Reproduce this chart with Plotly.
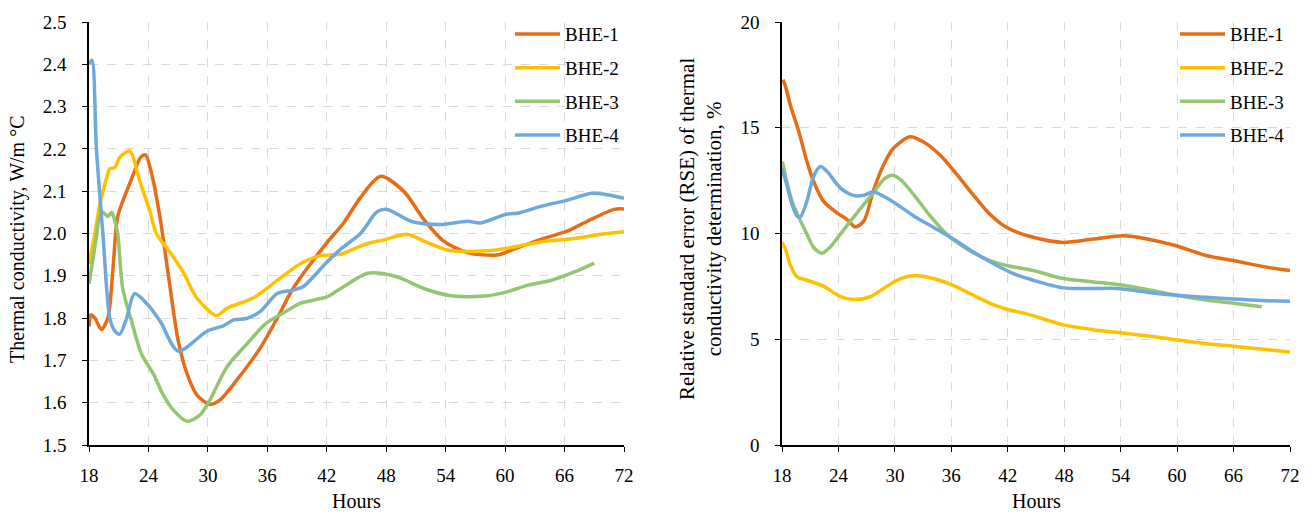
import plotly.graph_objects as go

FONT = "Liberation Serif"
NAMES = ["BHE-1", "BHE-2", "BHE-3", "BHE-4"]
COLORS = ["#E66C15", "#FFC000", "#93C572", "#6FA8DC"]

# ---- Left chart: thermal conductivity, W/m °C ----
l1_x = [18.0, 18.2, 18.6, 19.25, 19.9, 20.4, 20.9, 21.8, 22.5, 23.2, 23.7, 24.4, 25.2, 26.2, 27.0, 27.9, 28.9, 30.2, 31.2, 32.9, 35.3, 37.0, 38.6, 42.0, 43.7, 45.4, 47.4, 49.8, 51.8, 53.8, 56.2, 59.2, 60.9, 63.6, 66.3, 68.3, 71.0, 72.0]
l1_y = [1.78, 1.808, 1.80, 1.773, 1.80, 1.91, 2.04, 2.10, 2.141, 2.18, 2.186, 2.133, 2.033, 1.87, 1.746, 1.668, 1.618, 1.596, 1.606, 1.653, 1.73, 1.80, 1.87, 1.978, 2.025, 2.085, 2.135, 2.099, 2.033, 1.982, 1.955, 1.949, 1.963, 1.986, 2.006, 2.029, 2.057, 2.058]

l2_x = [18.0, 18.6, 19.1, 19.8, 20.1, 20.6, 21.1, 22.1, 23.1, 24.1, 24.8, 26.2, 27.5, 28.9, 30.9, 31.9, 34.6, 37.0, 39.3, 41.3, 43.4, 45.4, 46.4, 47.8, 50.1, 51.8, 54.2, 58.2, 60.9, 63.6, 67.0, 69.7, 72.0]
l2_y = [1.928, 2.0, 2.07, 2.133, 2.153, 2.156, 2.18, 2.195, 2.126, 2.056, 2.0, 1.955, 1.909, 1.847, 1.806, 1.823, 1.848, 1.889, 1.928, 1.947, 1.951, 1.97, 1.978, 1.985, 1.998, 1.982, 1.961, 1.959, 1.968, 1.98, 1.988, 1.998, 2.004]

l3_x = [18.0, 18.4, 18.8, 19.0, 19.4, 19.9, 20.3, 20.6, 20.9, 21.4, 22.3, 23.3, 24.5, 25.5, 26.5, 27.9, 29.2, 30.2, 31.9, 33.9, 35.9, 37.9, 39.3, 42.0, 43.4, 46.1, 47.8, 49.4, 51.8, 54.5, 57.9, 60.2, 62.3, 64.6, 67.0, 69.0]
l3_y = [1.881, 1.94, 2.0, 2.033, 2.05, 2.04, 2.05, 2.03, 2.0, 1.87, 1.792, 1.715, 1.668, 1.618, 1.583, 1.556, 1.571, 1.606, 1.684, 1.738, 1.788, 1.816, 1.835, 1.85, 1.87, 1.906, 1.905, 1.895, 1.87, 1.853, 1.852, 1.862, 1.878, 1.889, 1.909, 1.93]

l4_x = [18.0, 18.3, 18.75, 19.4, 20.1, 20.6, 21.1, 21.8, 22.6, 23.8, 25.2, 27.0, 29.9, 31.6, 32.6, 33.9, 35.3, 37.0, 38.6, 39.6, 42.0, 43.4, 45.4, 47.1, 48.1, 50.5, 53.5, 56.2, 57.5, 60.2, 61.3, 63.6, 66.3, 68.7, 70.0, 72.0]
l4_y = [2.40, 2.41, 2.2, 2.0, 1.8, 1.77, 1.762, 1.80, 1.858, 1.835, 1.792, 1.722, 1.769, 1.782, 1.796, 1.799, 1.816, 1.858, 1.866, 1.874, 1.932, 1.963, 2.0, 2.052, 2.057, 2.029, 2.021, 2.029, 2.025, 2.046, 2.048, 2.064, 2.079, 2.095, 2.093, 2.083]

# ---- Right chart: RSE, % ----
r1_x = [18.1, 18.35, 18.9, 19.8, 20.65, 21.35, 22.4, 23.8, 24.9, 25.8, 26.7, 27.7, 28.8, 29.85, 31.6, 33.0, 34.8, 36.6, 38.3, 40.1, 41.9, 44.7, 47.9, 51.1, 54.3, 56.8, 59.9, 63.1, 66.0, 69.5, 72.0]
r1_y = [17.27, 16.99, 16.05, 14.8, 13.4, 12.47, 11.53, 10.99, 10.67, 10.31, 10.59, 12.0, 13.25, 14.03, 14.57, 14.34, 13.71, 12.78, 11.84, 10.91, 10.28, 9.82, 9.58, 9.74, 9.89, 9.74, 9.42, 8.96, 8.72, 8.41, 8.25]

r2_x = [18.0, 18.35, 18.9, 19.6, 20.65, 22.4, 24.2, 25.6, 27.4, 28.8, 30.6, 32.3, 34.1, 36.2, 38.35, 40.1, 41.9, 44.0, 47.9, 51.1, 54.3, 57.2, 59.9, 63.1, 66.0, 69.5, 72.0]
r2_y = [9.58, 9.27, 8.49, 7.95, 7.79, 7.51, 7.01, 6.88, 7.01, 7.40, 7.87, 8.02, 7.87, 7.55, 7.08, 6.70, 6.42, 6.20, 5.68, 5.45, 5.29, 5.14, 4.98, 4.79, 4.67, 4.51, 4.40]

r3_x = [18.05, 18.5, 19.06, 19.8, 20.65, 21.35, 22.25, 23.1, 24.2, 26.0, 27.7, 28.8, 29.7, 30.6, 32.0, 33.75, 35.5, 37.65, 40.1, 41.9, 44.7, 47.9, 51.1, 54.3, 57.2, 59.9, 63.1, 66.0, 69.0]
r3_y = [13.40, 12.47, 11.53, 10.75, 9.97, 9.35, 9.07, 9.35, 9.97, 10.99, 11.92, 12.55, 12.75, 12.55, 11.84, 10.83, 9.97, 9.27, 8.72, 8.49, 8.25, 7.87, 7.71, 7.55, 7.32, 7.08, 6.85, 6.70, 6.54]

r4_x = [18.0, 18.5, 19.06, 19.6, 19.95, 20.65, 21.35, 22.1, 22.8, 24.2, 25.6, 26.7, 27.7, 28.8, 30.2, 32.0, 34.1, 36.2, 38.35, 40.5, 42.6, 44.7, 47.9, 51.1, 53.6, 57.2, 59.9, 63.1, 66.0, 69.5, 72.0]
r4_y = [13.09, 12.31, 11.38, 10.83, 10.78, 11.53, 12.70, 13.17, 12.93, 12.16, 11.80, 11.81, 11.97, 11.76, 11.38, 10.83, 10.29, 9.74, 9.12, 8.57, 8.10, 7.79, 7.43, 7.40, 7.40, 7.20, 7.08, 6.98, 6.90, 6.82, 6.80]

x_ticks = [18, 24, 30, 36, 42, 48, 54, 60, 66, 72]
left_y_title = "Thermal conductivity, W/m °C"
right_y_title = "Relative standard error (RSE) of thermal<br>conductivity determination, %"
x_title = "Hours"

left_series = [(l1_x, l1_y), (l2_x, l2_y), (l3_x, l3_y), (l4_x, l4_y)]
right_series = [(r1_x, r1_y), (r2_x, r2_y), (r3_x, r3_y), (r4_x, r4_y)]

fig = go.Figure()
for i, (xs, ys) in enumerate(left_series):
    fig.add_trace(go.Scatter(x=xs, y=ys, name=NAMES[i], mode="lines",
                             line=dict(color=COLORS[i], width=3.5, shape="spline", smoothing=0.8),
                             xaxis="x", yaxis="y", legend="legend", legendgroup="L" + str(i)))
for i, (xs, ys) in enumerate(right_series):
    fig.add_trace(go.Scatter(x=xs, y=ys, name=NAMES[i], mode="lines",
                             line=dict(color=COLORS[i], width=3.5, shape="spline", smoothing=0.8),
                             xaxis="x2", yaxis="y2", legend="legend2", legendgroup="R" + str(i)))

W, H = 1314, 515
ML, MR, MT, MB = 89, 24, 16, 70
PW = W - ML - MR
PH = H - MT - MB
left_dom = [0, (624 - ML) / PW]
right_dom = [(782 - ML) / PW, 1]

axis_common = dict(showline=True, linecolor="black", linewidth=1.5, ticks="outside",
                   ticklen=5, tickcolor="black", showgrid=True, gridcolor="#D9D9D9",
                   griddash="dash", gridwidth=1, zeroline=False,
                   tickfont=dict(family=FONT, size=19, color="black"))

legend_common = dict(xanchor="left", yanchor="top", bgcolor="rgba(255,255,255,0)",
                     font=dict(family=FONT, size=19), tracegroupgap=6, itemwidth=45)

fig.update_layout(
    width=W, height=H,
    margin=dict(l=ML, r=MR, t=MT, b=MB),
    paper_bgcolor="white", plot_bgcolor="white",
    font=dict(family=FONT, size=19, color="black"),
    xaxis=dict(domain=left_dom, range=[18, 72], tickvals=x_ticks, ticklabelstandoff=7, **axis_common),
    yaxis=dict(domain=[0, 1], range=[1.5, 2.5], dtick=0.1, tickformat=".1f", ticklabelstandoff=12, **axis_common),
    xaxis2=dict(domain=right_dom, range=[18, 72], tickvals=x_ticks, anchor="y2", ticklabelstandoff=7, **axis_common),
    yaxis2=dict(domain=[0, 1], range=[0, 20], dtick=5, anchor="x2", ticklabelstandoff=12, **axis_common),
    legend=dict(x=(510 - ML) / PW, y=1 - (9 - MT) / PH, **legend_common),
    legend2=dict(x=(1175 - ML) / PW, y=1 - (9 - MT) / PH, **legend_common),
    annotations=[
        dict(text=left_y_title, xref="paper", yref="paper", x=0, xshift=18 - ML, y=1 - (237 - MT) / PH,
             textangle=-90, showarrow=False, font=dict(family=FONT, size=20), xanchor="center", yanchor="middle"),
        dict(text=right_y_title, xref="paper", yref="paper", x=(700 - ML) / PW, y=1 - (226 - MT) / PH,
             textangle=-90, showarrow=False, font=dict(family=FONT, size=21), xanchor="center", yanchor="middle"),
        dict(text=x_title, xref="paper", yref="paper", x=sum(left_dom) / 2, y=-(502 - 445) / PH,
             showarrow=False, font=dict(family=FONT, size=20), xanchor="center", yanchor="middle"),
        dict(text=x_title, xref="paper", yref="paper", x=sum(right_dom) / 2, y=-(502 - 445) / PH,
             showarrow=False, font=dict(family=FONT, size=20), xanchor="center", yanchor="middle"),
    ],
)

fig.write_html("out.html", config={"displayModeBar": False},
               post_script="document.body.style.margin='0';document.body.style.overflow='hidden';")
